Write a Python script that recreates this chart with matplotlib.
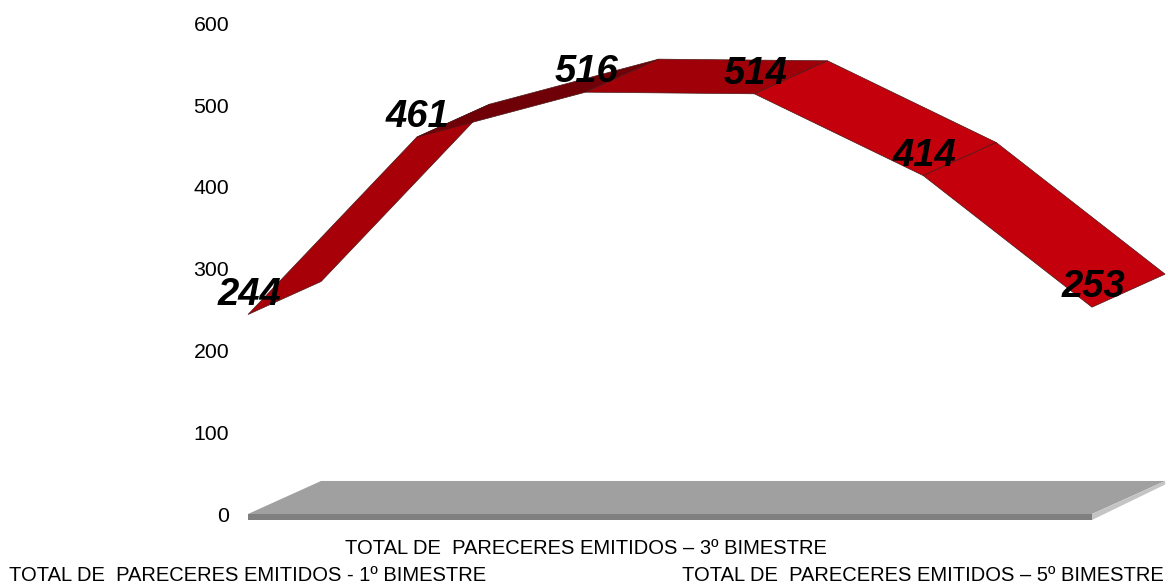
#!/usr/bin/env python3
"""Pareceres emitidos por bimestre - 3D style line ribbon"""

import matplotlib
matplotlib.use('Agg')
import matplotlib.pyplot as plt

plt.rcParams['font.family'] = ['Liberation Sans', 'DejaVu Sans']

# Data
values = [244, 461, 516, 514, 414, 253]
label_pos = [0, 2, 4]
labels = ['TOTAL DE  PARECERES EMITIDOS - 1º BIMESTRE',
          'TOTAL DE  PARECERES EMITIDOS – 3º BIMESTRE',
          'TOTAL DE  PARECERES EMITIDOS – 5º BIMESTRE']
y_ticks = [0, 100, 200, 300, 400, 500, 600]

# Colours of each ribbon segment
seg_colors = ['#a80008', '#700008', '#a00008', '#c4000c', '#c4000c']

# Fake depth of the 3D projection, in data units
depth_x = 0.433
depth_y = 40.4
floor_h = 7.3


def main():
    fig = plt.figure(figsize=(11.68, 5.85), dpi=100)
    ax = fig.add_axes([248 / 1168, (585 - 514) / 585, 844 / 1168, 490.5 / 585])
    ax.set_xlim(0, len(values) - 1)
    ax.set_ylim(0, 600)
    for s in ax.spines.values():
        s.set_visible(False)

    # Floor
    last = len(values) - 1
    ax.fill([0, depth_x, last + depth_x, last], [0, depth_y, depth_y, 0],
            color='#a0a0a0', lw=0, clip_on=False)
    ax.fill([0, last, last, 0], [0, 0, -floor_h, -floor_h],
            color='#7f7f7f', lw=0, clip_on=False)
    ax.fill([last, last + depth_x, last + depth_x, last],
            [0, depth_y, depth_y - floor_h * 0.6, -floor_h],
            color='#c4c4c4', lw=0, clip_on=False)

    # Ribbon, painted left to right so later segments cover earlier ones
    for i in range(len(values) - 1):
        xs = [i, i + 1, i + 1 + depth_x, i + depth_x]
        ys = [values[i], values[i + 1], values[i + 1] + depth_y, values[i] + depth_y]
        ax.fill(xs, ys, facecolor=seg_colors[i], edgecolor='#4a1818', lw=0.5,
                clip_on=False, zorder=3)

    # Value labels
    for i, v in enumerate(values):
        ax.annotate(str(v), (i, v), xytext=(0.7, 14.4), textcoords='offset points',
                    ha='center', va='center', fontsize=27.5, fontweight='bold',
                    fontstyle='italic', color='black', zorder=5,
                    annotation_clip=False)

    # Axes labels
    ax.set_yticks(y_ticks)
    ax.tick_params(axis='y', length=0, pad=13.5, labelsize=15.3)
    ax.set_xticks(label_pos)
    ax.set_xticklabels(labels, fontsize=14.5)
    ax.tick_params(axis='x', length=0)
    pads = [37.7, 18.2, 37.7]
    for tick, pad in zip(ax.xaxis.get_major_ticks(), pads):
        tick.set_pad(pad)

    fig.savefig('out.png', dpi=100, facecolor='white')
    plt.close()


if __name__ == "__main__":
    main()
